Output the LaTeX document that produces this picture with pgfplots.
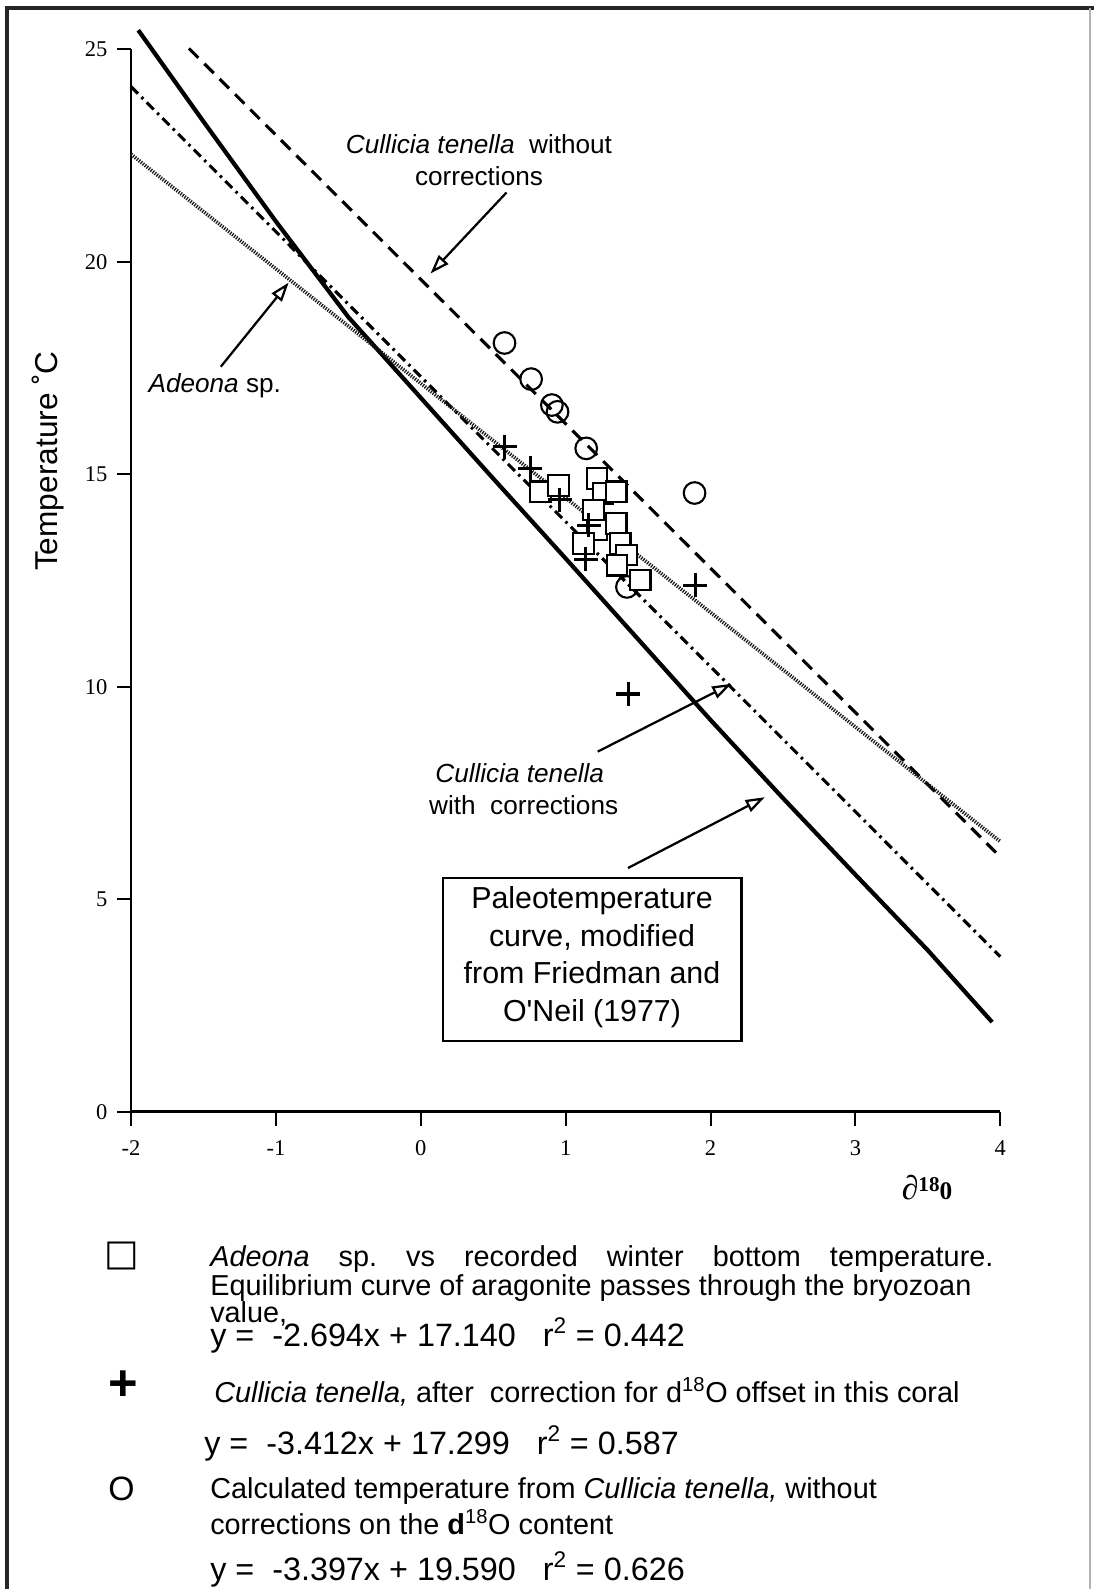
\documentclass[border=0pt]{standalone}
\usepackage{fontspec}
\setmainfont{Liberation Sans}
\newfontfamily\serifnum{Liberation Serif}
\newfontfamily\symf{DejaVu Sans}
\usepackage{pgfplots}
\pgfplotsset{compat=1.18}
\usetikzlibrary{arrows.meta}
\frenchspacing

\newcommand\annot{\fontsize{18.6}{22}\selectfont}
\newcommand\legf{\fontsize{20.5}{24}\selectfont}
\newcommand\eqf{\fontsize{23}{27}\selectfont}
\newcommand\boxf{\fontsize{21.6}{27}\selectfont}

\begin{document}
\begin{tikzpicture}[x=0.025cm,y=0.025cm]
\useasboundingbox (0,0) rectangle (1094,-1589);
% page frame
\draw[line width=2.2pt, black!85] (7,-1589) -- (7,-8) -- (1094,-8);
\draw[line width=0.8pt, black!30] (1090,-8) -- (1090,-1589);

\begin{axis}[
  at={(3.275cm,-27.7875cm)}, anchor=south west,
  scale only axis, width=21.725cm, height=26.555cm,
  xmin=-2, xmax=4, ymin=0, ymax=25,
  clip=false,
  axis x line*=bottom, axis y line*=left,
  x axis line style={-, line width=2.4pt},
  y axis line style={-, line width=1.4pt},
  tick align=outside, major tick length=0.35cm,
  tick style={line width=1.4pt, black},
  xtick={-2,-1,0,1,2,3,4},
  xticklabels={-2,-1,0,1,2,3,4},
  ytick={0,5,10,15,20,25},
  yticklabels={0,5,10,15,20,25},
  ticklabel style={font=\serifnum\fontsize{16}{16}\selectfont},
  xticklabel style={yshift=-0.25cm},
  yticklabel style={xshift=-0.12cm},
]
% Friedman and O'Neil paleotemperature curve
\addplot[line width=3pt, black] coordinates {
  (-1.95,25.45) (-1.5,23.30) (-1.0,20.95) (-0.5,18.70) (0.0,16.80)
  (0.5,14.90) (1.0,13.02) (1.5,11.12) (2.0,9.22) (2.5,7.38)
  (3.0,5.58) (3.5,3.80) (3.944,2.11)};
% Cullicia tenella without corrections
\addplot[line width=2.2pt, black, dash pattern=on 9.4pt off 6pt] coordinates {(-1.6,25.02) (4,6.00)};
% Cullicia tenella with corrections
\addplot[line width=2.2pt, black, dash pattern=on 7pt off 3.5pt on 1.8pt off 3.5pt] coordinates {(-2,24.12) (4,3.65)};
% Adeona sp.
\addplot[line width=2.6pt, black!90, dash pattern=on 0.9pt off 0.9pt] coordinates {(-2,22.53) (4,6.36)};

% circles
\addplot[only marks, mark=o, mark size=7.7pt, mark options={line width=1.5pt, black}] coordinates {
  (0.578,18.09) (0.762,17.24) (0.905,16.63) (0.944,16.47) (1.142,15.61)
  (1.890,14.56) (1.423,12.35)};
% squares
\addplot[only marks, mark=square*, mark size=7.3pt, mark options={line width=1.5pt, draw=black, fill=white}] coordinates {
  (0.825,14.59) (0.951,14.74) (1.216,14.90) (1.258,14.55) (1.349,14.59)
  (1.193,14.16) (1.216,13.69) (1.349,13.84) (1.124,13.37) (1.377,13.37)
  (1.419,13.10) (1.354,12.86) (1.515,12.51)};
% pluses
\addplot[only marks, mark=+, mark size=8.5pt, mark options={line width=2.2pt, black}] coordinates {
  (0.58,15.65) (0.756,15.14) (0.96,14.40) (1.16,13.80) (1.14,13.00)
  (1.895,12.39) (1.432,9.83)};
\end{axis}

% axis labels
\node[rotate=90, inner sep=0, font=\fontsize{22.5}{26}\selectfont] at (48,-461) {Temperature ˚C};
\node[inner sep=0, font=\serifnum\bfseries\fontsize{24}{26}\selectfont] at (927,-1188)
  {∂\raisebox{0.55ex}{\fontsize{15}{15}\selectfont 18}\fontsize{18}{18}\selectfont 0};

% annotations
\node[anchor=base, inner sep=0, font=\annot] at (479,-153.4) {\textit{Cullicia tenella}\ \ without};
\node[anchor=base, inner sep=0, font=\annot] at (479,-185.4) {corrections};
\node[anchor=base, inner sep=0, font=\annot] at (214.8,-392.4) {\textit{Adeona} sp.};
\node[anchor=base, inner sep=0, font=\annot] at (519.7,-782.4) {\textit{Cullicia tenella}};
\node[anchor=base, inner sep=0, font=\annot] at (523.7,-814.4) {with\ \ corrections};

\tikzset{openarr/.style={line width=1.6pt, -{Triangle[length=0.48cm, width=0.32cm, fill=white, line width=1.6pt]}}}
\draw[openarr] (506.5,-192.5) -- (430.5,-273.5);
\draw[openarr] (220.8,-366.7) -- (288.7,-282.6);
\draw[openarr] (597.7,-751.6) -- (731.4,-683.8);
\draw[openarr] (628,-868) -- (764.8,-797.2);

% box
\draw[line width=1.5pt] (442.7,-878) rectangle (741.5,-1041);
\node[anchor=base, inner sep=0, font=\boxf] at (592,-908.4) {Paleotemperature};
\node[anchor=base, inner sep=0, font=\boxf] at (592,-946) {curve, modified};
\node[anchor=base, inner sep=0, font=\boxf] at (592,-983.4) {from Friedman and};
\node[anchor=base, inner sep=0, font=\boxf] at (592,-1021) {O\textquotesingle Neil (1977)};

% key
\node[inner sep=0, font=\symf\fontsize{26}{26}\selectfont] at (121.5,-1256) {□};
\node[anchor=base west, inner sep=0, font=\legf] at (210,-1266)
  {\makebox[19.575cm][s]{\textit{Adeona} sp. vs recorded winter bottom temperature.}};
\node[anchor=base west, inner sep=0, font=\legf] at (210,-1295) {Equilibrium curve of aragonite passes through the bryozoan};
\node[anchor=base west, inner sep=0, font=\legf] at (210,-1322) {value,};
\node[anchor=base west, inner sep=0, font=\eqf] at (210,-1346) {y =\ \ -2.694x + 17.140\ \ \ r\textsuperscript{2} = 0.442};

\node[inner sep=0, font=\bfseries\fontsize{36}{36}\selectfont] at (123.6,-1386) {+};
\node[anchor=base west, inner sep=0, font=\legf] at (214,-1402)
  {\textit{Cullicia tenella,} after\ \ correction for d\textsuperscript{18}O offset in this coral};
\node[anchor=base west, inner sep=0, font=\eqf] at (204,-1454) {y =\ \ -3.412x + 17.299\ \ \ r\textsuperscript{2} = 0.587};

\node[inner sep=0, font=\fontsize{24}{24}\selectfont] at (121.5,-1489) {O};
\node[anchor=base west, inner sep=0, font=\legf] at (210,-1498)
  {Calculated temperature from \textit{Cullicia tenella,} without};
\node[anchor=base west, inner sep=0, font=\legf] at (210,-1534)
  {corrections on the \textbf{d}\textsuperscript{18}O content};
\node[anchor=base west, inner sep=0, font=\eqf] at (210,-1580) {y =\ \ -3.397x + 19.590\ \ \ r\textsuperscript{2} = 0.626};
\end{tikzpicture}
\end{document}
